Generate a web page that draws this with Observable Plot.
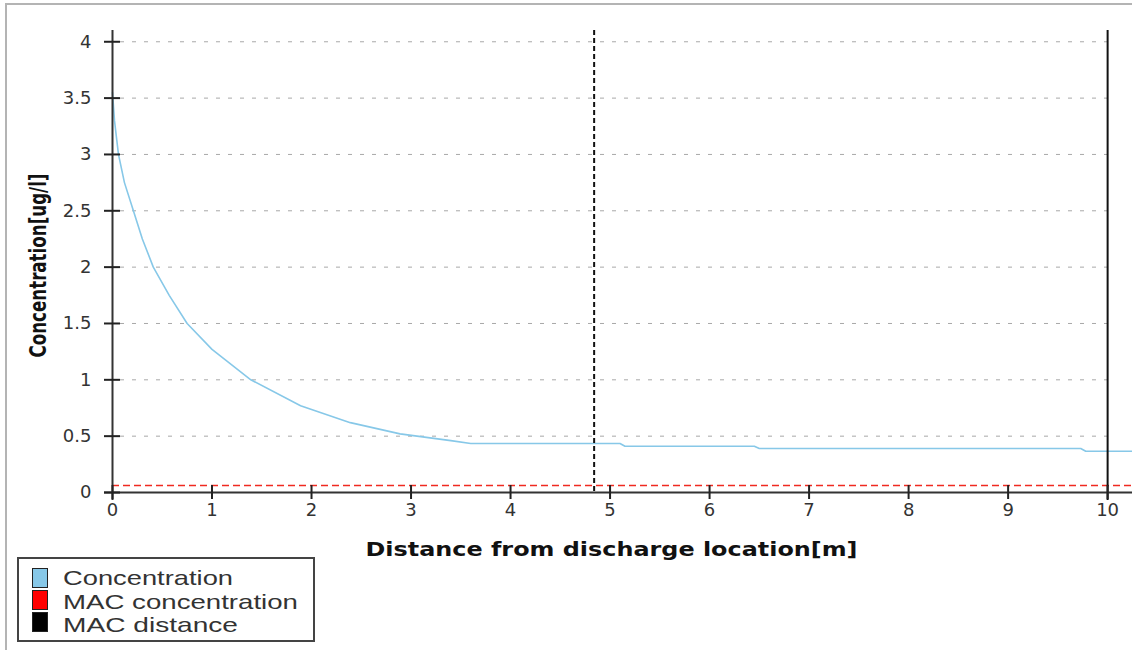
<!DOCTYPE html>
<html><head><meta charset="utf-8">
<script src="https://cdn.jsdelivr.net/npm/d3@7"></script>
<script src="https://cdn.jsdelivr.net/npm/@observablehq/plot@0.6"></script>
<style>
body{margin:0;background:#fff;}
#chart svg, #legend svg{display:block;}
#legend{position:relative;margin-top:-6px;}
#frame{position:fixed;left:5px;top:3px;width:2000px;height:2000px;border-left:2px solid #b4b4b4;border-top:2px solid #b4b4b4;pointer-events:none;}
</style></head><body>
<div id="chart"></div>
<div id="legend"></div>
<div id="frame"></div>
<script>
// Data
const distance = [0, 0.02, 0.06, 0.12, 0.21, 0.30, 0.41, 0.57, 0.75, 1.0, 1.39, 1.89, 2.39, 2.89, 3.4, 3.6, 5.1, 5.15, 6.45, 6.5, 9.73, 9.78, 10.25];
const concentration = [3.55, 3.3, 3.0, 2.75, 2.5, 2.25, 2.0, 1.75, 1.5, 1.27, 1.0, 0.77, 0.62, 0.52, 0.46, 0.435, 0.435, 0.41, 0.41, 0.39, 0.39, 0.366, 0.366];
const macConcentration = [0.062];
const macDistance = [4.84];
const rangeEnd = [10];
const yTicks = [0, 0.5, 1, 1.5, 2, 2.5, 3, 3.5, 4];
const xTicks = [0, 1, 2, 3, 4, 5, 6, 7, 8, 9, 10];
const xTitle = ["Distance from discharge location[m]"];
const yTitle = ["Concentration[ug/l]"];
const legendNames = ["Concentration", "MAC concentration", "MAC distance"];
const legendColors = ["#87c8e8", "#ff0000", "#000000"];

const curve = distance.map((d, i) => ({distance: d, concentration: concentration[i]}));

const plot = Plot.plot({
  width: 1132, height: 562,
  marginLeft: 112, marginRight: 0, marginTop: 30, marginBottom: 70,
  x: {domain: [0, 10.25]},
  y: {domain: [0, 4.1]},
  style: {fontFamily: "DejaVu Sans", fontSize: "18px", color: "#333", background: "white"},
  marks: [
    Plot.ruleY(yTicks.slice(1), {x1: 0, x2: rangeEnd[0], stroke: "#a8a8a8", strokeDasharray: "4,8", insetLeft: 8}),
    Plot.ruleY(macConcentration, {stroke: "#f02a20", strokeWidth: 1.5, strokeDasharray: "7,4"}),
    Plot.line(curve, {x: "distance", y: "concentration", stroke: "#87c8e8", strokeWidth: 1.6}),
    Plot.ruleX(macDistance, {stroke: "#111", strokeWidth: 2, strokeDasharray: "5,3"}),
    Plot.ruleX(rangeEnd, {stroke: "#111", strokeWidth: 2, insetBottom: -8}),
    Plot.ruleX([0], {stroke: "#333", strokeWidth: 2, insetBottom: -8}),
    Plot.ruleY([0], {stroke: "#333", strokeWidth: 2, insetLeft: -8}),
    Plot.axisY(yTicks, {tickSize: 16, dx: 8, fill: "none", stroke: "#222", strokeWidth: 2, label: null}),
    Plot.axisY(yTicks, {tickSize: 0, tickPadding: 21, label: null, tickFormat: d => String(d), fill: "#333"}),
    Plot.axisX(xTicks, {tickSize: 14, dy: -7, fill: "none", stroke: "#222", strokeWidth: 2, label: null}),
    Plot.axisX(xTicks, {tickSize: 0, tickPadding: 11, label: null, tickFormat: d => String(d), fill: "#333"}),
    Plot.text(xTitle, {text: d => d, frameAnchor: "bottom", dy: 63, dx: -11, lineAnchor: "bottom", textAnchor: "middle",
      fontWeight: "bold", fontSize: 19, fontFamily: "DejaVu Sans", fill: "#111"}),
    Plot.text(yTitle, {text: d => d, frameAnchor: "left", dx: -74, dy: 4, rotate: -90, textAnchor: "middle",
      fontWeight: "bold", fontSize: 23, fontFamily: "Liberation Sans Narrow, DejaVu Sans Condensed, sans-serif", fill: "#111"})
  ]
});
const fitText = (label, len) => d3.select(plot).selectAll("text")
  .filter(function() { return this.textContent === label; })
  .attr("textLength", len).attr("lengthAdjust", "spacingAndGlyphs");
fitText(xTitle[0], 492);
fitText(yTitle[0], 184);
document.getElementById("chart").appendChild(plot);

// Legend (below the chart)
const widths = [170, 235, 175];
const lg = d3.select("#legend").append("svg").attr("width", 1132).attr("height", 94);
lg.append("rect").attr("x", 18).attr("y", 2).attr("width", 296).attr("height", 83)
  .attr("fill", "white").attr("stroke", "#444").attr("stroke-width", 2);
legendNames.forEach((name, i) => {
  lg.append("rect").attr("x", 32.5).attr("y", 12.5 + i * 22).attr("width", 15).attr("height", 19)
    .attr("fill", legendColors[i]).attr("stroke", "#222").attr("stroke-width", 1);
  lg.append("text").attr("x", 63).attr("y", 29 + i * 23.5).text(name)
    .attr("font-family", "Liberation Sans, Arial, sans-serif").attr("font-size", 21).attr("fill", "#333")
    .attr("textLength", widths[i]).attr("lengthAdjust", "spacingAndGlyphs");
});
</script>
</body></html>
